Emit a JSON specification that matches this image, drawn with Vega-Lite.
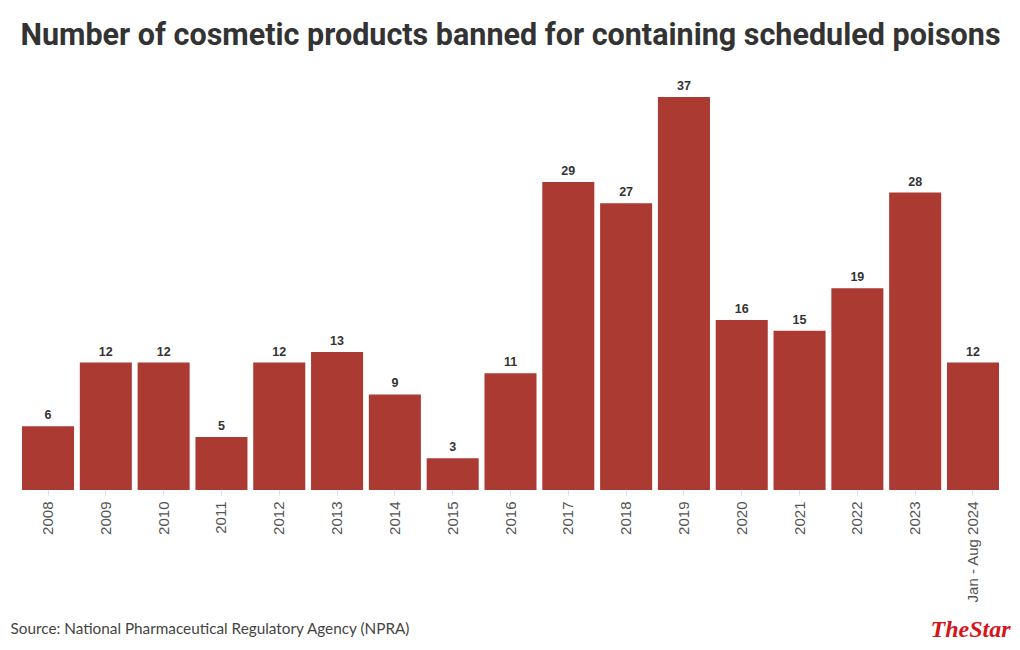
{
  "$schema": "https://vega.github.io/schema/vega-lite/v6.json",
  "width": 977,
  "height": 425,
  "autosize": {"type": "none"},
  "padding": {"left": 22, "right": 21, "top": 65, "bottom": 160},
  "background": "white",
  "title": {
    "text": "Number of cosmetic products banned for containing scheduled poisons",
    "font": "Roboto",
    "fontSize": 30.5,
    "fontWeight": "bold",
    "color": "#333333",
    "anchor": "middle",
    "offset": 14
  },
  "data": {
    "values": [
      {"period": "2008", "count": 6},
      {"period": "2009", "count": 12},
      {"period": "2010", "count": 12},
      {"period": "2011", "count": 5},
      {"period": "2012", "count": 12},
      {"period": "2013", "count": 13},
      {"period": "2014", "count": 9},
      {"period": "2015", "count": 3},
      {"period": "2016", "count": 11},
      {"period": "2017", "count": 29},
      {"period": "2018", "count": 27},
      {"period": "2019", "count": 37},
      {"period": "2020", "count": 16},
      {"period": "2021", "count": 15},
      {"period": "2022", "count": 19},
      {"period": "2023", "count": 28},
      {"period": "Jan - Aug 2024", "count": 12}
    ]
  },
  "encoding": {
    "x": {
      "field": "period",
      "type": "nominal",
      "sort": null,
      "scale": {"paddingInner": 0.1, "paddingOuter": 0},
      "axis": {
        "title": "Source: National Pharmaceutical Regulatory Agency (NPRA)",
        "titleFont": "Lato",
        "titleFontSize": 15.3,
        "titleFontWeight": "normal",
        "titleColor": "#444444",
        "titleAnchor": null,
        "titleAlign": "left",
        "titleBaseline": "middle",
        "titleX": -12,
        "titleY": 138,
        "labelAngle": -90,
        "labelAlign": "right",
        "labelBaseline": "middle",
        "labelFont": "Liberation Sans",
        "labelFontSize": 15,
        "labelColor": "#555555",
        "labelPadding": 6,
        "tickColor": "#dddddd",
        "tickSize": 5,
        "domain": false,
        "grid": false
      }
    },
    "y": {
      "field": "count",
      "type": "quantitative",
      "scale": {"domain": [0, 40], "nice": false},
      "axis": {
        "orient": "right",
        "title": "TheStar",
        "titleFont": "Liberation Serif",
        "titleFontStyle": "italic",
        "titleFontWeight": "bold",
        "titleFontSize": 24,
        "titleColor": "#d4161c",
        "titleAngle": 0,
        "titleAlign": "right",
        "titleBaseline": "alphabetic",
        "titleX": 11,
        "titleY": 571,
        "labels": false,
        "ticks": false,
        "domain": false,
        "grid": false
      }
    }
  },
  "layer": [
    {"mark": {"type": "bar", "color": "#ab3a33"}},
    {
      "mark": {
        "type": "text",
        "baseline": "bottom",
        "dy": -4,
        "font": "Liberation Sans",
        "fontSize": 12.5,
        "fontWeight": "bold",
        "color": "#333333"
      },
      "encoding": {"text": {"field": "count", "type": "quantitative"}}
    }
  ],
  "config": {"view": {"stroke": null}}
}
